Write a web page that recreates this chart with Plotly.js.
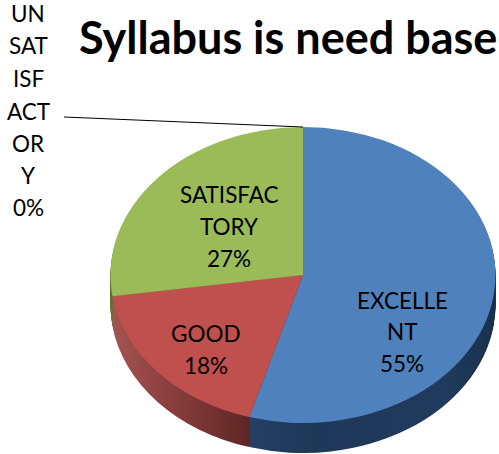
<!DOCTYPE html>
<html>
<head>
<meta charset="utf-8">
<script src="https://cdn.plot.ly/plotly-3.0.1.min.js"></script>
<style>html,body{margin:0;padding:0;background:#fff}#chart{width:499px;height:454px}</style>
</head>
<body>
<div id="chart"></div>
<script>
const categories = ["EXCELLENT", "GOOD", "SATISFACTORY", "UNSATISFACTORY"];
const shares = [54.5, 18.2, 27.3, 0];
const topColors = ["#4f81bd", "#c0504d", "#9bbb59", "#8064a2"];
const sideColors = ["#1f3a5c", "#7a3533", "#5f7530", "#4b3a60"];
const titleText = "Syllabus is need base";
const labelLines = [
  {lines: ["UN","SAT","ISF","ACT","OR","Y","0%"], x: 28, y: [13,45,78,111,143,175,207]},
  {lines: ["SATISFAC","TORY","27%"], x: 229, y: [194,226,258]},
  {lines: ["GOOD","18%"], x: 206, y: [333,365]},
  {lines: ["EXCELLE","NT","55%"], x: 402, y: [300,331,363]}
];

const W = 499, H = 454;
const cx = 303, cy = 275, ry = 148, rx = 192.5, depth = 30;

function pieTrace(offset, colors) {
  return {
    type: "pie", labels: categories, values: shares, sort: false,
    direction: "clockwise", rotation: 0, textinfo: "none", hoverinfo: "skip",
    showlegend: false,
    marker: {colors: colors, line: {width: 0}},
    domain: {
      x: [(cx - ry) / W, (cx + ry) / W],
      y: [(H - cy - offset - ry) / H, (H - cy - offset + ry) / H]
    }
  };
}
const traces = [];
for (let d = depth; d >= 1; d--) traces.push(pieTrace(d, sideColors));
traces.push(pieTrace(0, topColors));

const annotations = [{
  text: "<b>" + titleText + "</b>", x: 288 / W, y: 1 - 37 / H,
  xref: "paper", yref: "paper", xanchor: "center", yanchor: "middle",
  showarrow: false, font: {family: "Lato", size: 45, color: "#000"}
}];
labelLines.forEach(g => g.lines.forEach((t, i) => annotations.push({
  text: t, x: g.x / W, y: 1 - g.y[i] / H, xref: "paper", yref: "paper",
  xanchor: "center", yanchor: "middle", showarrow: false,
  font: {family: "Lato", size: 22.5, color: "#000"}
})));

const layout = {
  width: W, height: H, margin: {l: 0, r: 0, t: 0, b: 0},
  paper_bgcolor: "#fff", plot_bgcolor: "#fff", showlegend: false,
  annotations: annotations,
  shapes: [{type: "line", xref: "paper", yref: "paper",
    x0: 64 / W, y0: 1 - 117 / H, x1: cx / W, y1: 1 - 127 / H,
    line: {color: "#000", width: 1.2}}]
};

Plotly.newPlot("chart", traces, layout, {staticPlot: true, displayModeBar: false}).then(gd => {
  const svg = gd.querySelector("svg.main-svg");
  const NS = "http://www.w3.org/2000/svg";
  const defs = svg.querySelector("defs") || svg.insertBefore(document.createElementNS(NS, "defs"), svg.firstChild);
  function grad(id, stops) {
    const g = document.createElementNS(NS, "linearGradient");
    g.setAttribute("id", id);
    stops.forEach(s => {
      const st = document.createElementNS(NS, "stop");
      st.setAttribute("offset", s[0]);
      st.setAttribute("stop-color", s[1]);
      g.appendChild(st);
    });
    defs.appendChild(g);
  }
  grad("sideBlue", [[0, "#243f63"], [0.25, "#1f3858"], [0.8, "#1f3a5c"], [0.95, "#1c3350"], [1, "#18304c"]]);
  grad("sideRed", [[0, "#a35451"], [0.3, "#8b3f3d"], [0.72, "#5e2625"], [1, "#5e2625"]]);
  const groups = gd.querySelectorAll(".pielayer .trace");
  const k = rx / ry;
  groups.forEach((g, idx) => {
    g.setAttribute("transform", `translate(${cx} 0) scale(${k} 1) translate(${-cx} 0)`);
    if (idx < groups.length - 1) {
      const paths = g.querySelectorAll(".slice path.surface");
      if (paths[0]) paths[0].style.fill = "url(#sideBlue)";
      if (paths[1]) paths[1].style.fill = "url(#sideRed)";
    }
  });
});
</script>
</body>
</html>
